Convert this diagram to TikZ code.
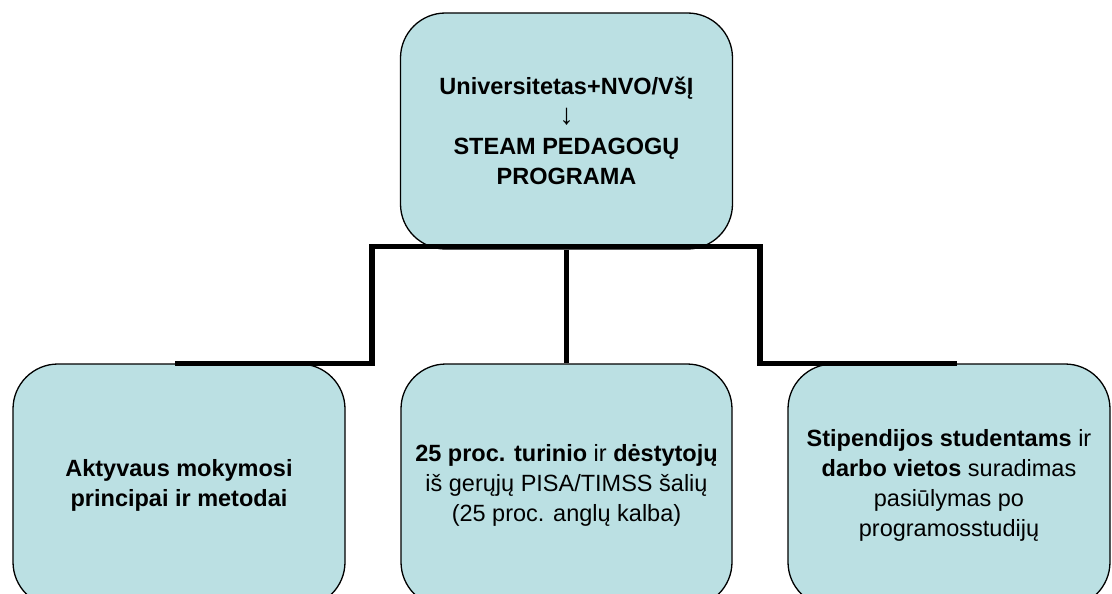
\documentclass[tikz,border=0pt]{standalone}
\usepackage{fontspec}
\setmainfont{Liberation Sans}
\definecolor{boxfill}{RGB}{187,224,227}
\begin{document}
\begin{tikzpicture}[x=1pt,y=-1pt,
  box/.style={draw=black, line width=1.3pt, fill=boxfill, rounded corners=45pt,
    inner sep=0pt, align=center, font=\fontsize{23.5}{30}\selectfont},
  conn/.style={line width=5.5pt}]
\useasboundingbox (0,0) rectangle (1112,594);
\clip (0,0) rectangle (1112,594);
\node[box, minimum width=332pt, minimum height=236pt] (top) at (566.5,131)
  {\textbf{Universitetas+NVO/VšĮ}\\ {\fontsize{29}{30}\selectfont ↓}\\ \textbf{STEAM PEDAGOGŲ}\\ \textbf{PROGRAMA}};
\node[box, minimum width=332pt, minimum height=243pt] (left) at (179,485.5)
  {\textbf{Aktyvaus mokymosi}\\ \textbf{principai ir metodai}};
\node[box, minimum width=331pt, minimum height=243pt] (mid) at (566.5,485.5)
  {\textbf{25 proc. turinio} ir \textbf{dėstytojų}\\ iš gerųjų PISA/TIMSS šalių\\ (25 proc. anglų kalba)};
\node[box, minimum width=322pt, minimum height=243pt] (right) at (949,485.5)
  {\textbf{Stipendijos studentams} ir\\ \textbf{darbo vietos} suradimas\\ pasiūlymas po\\ programosstudijų};
\coordinate (jl) at (372,246.5);
\coordinate (jr) at (760,246.5);
\draw[conn] ([xshift=-4pt]left.north) -| (jl) -- (jr) |- ([xshift=8pt]right.north);
\draw[conn] (top.south) -- (mid.north);
\end{tikzpicture}
\end{document}
